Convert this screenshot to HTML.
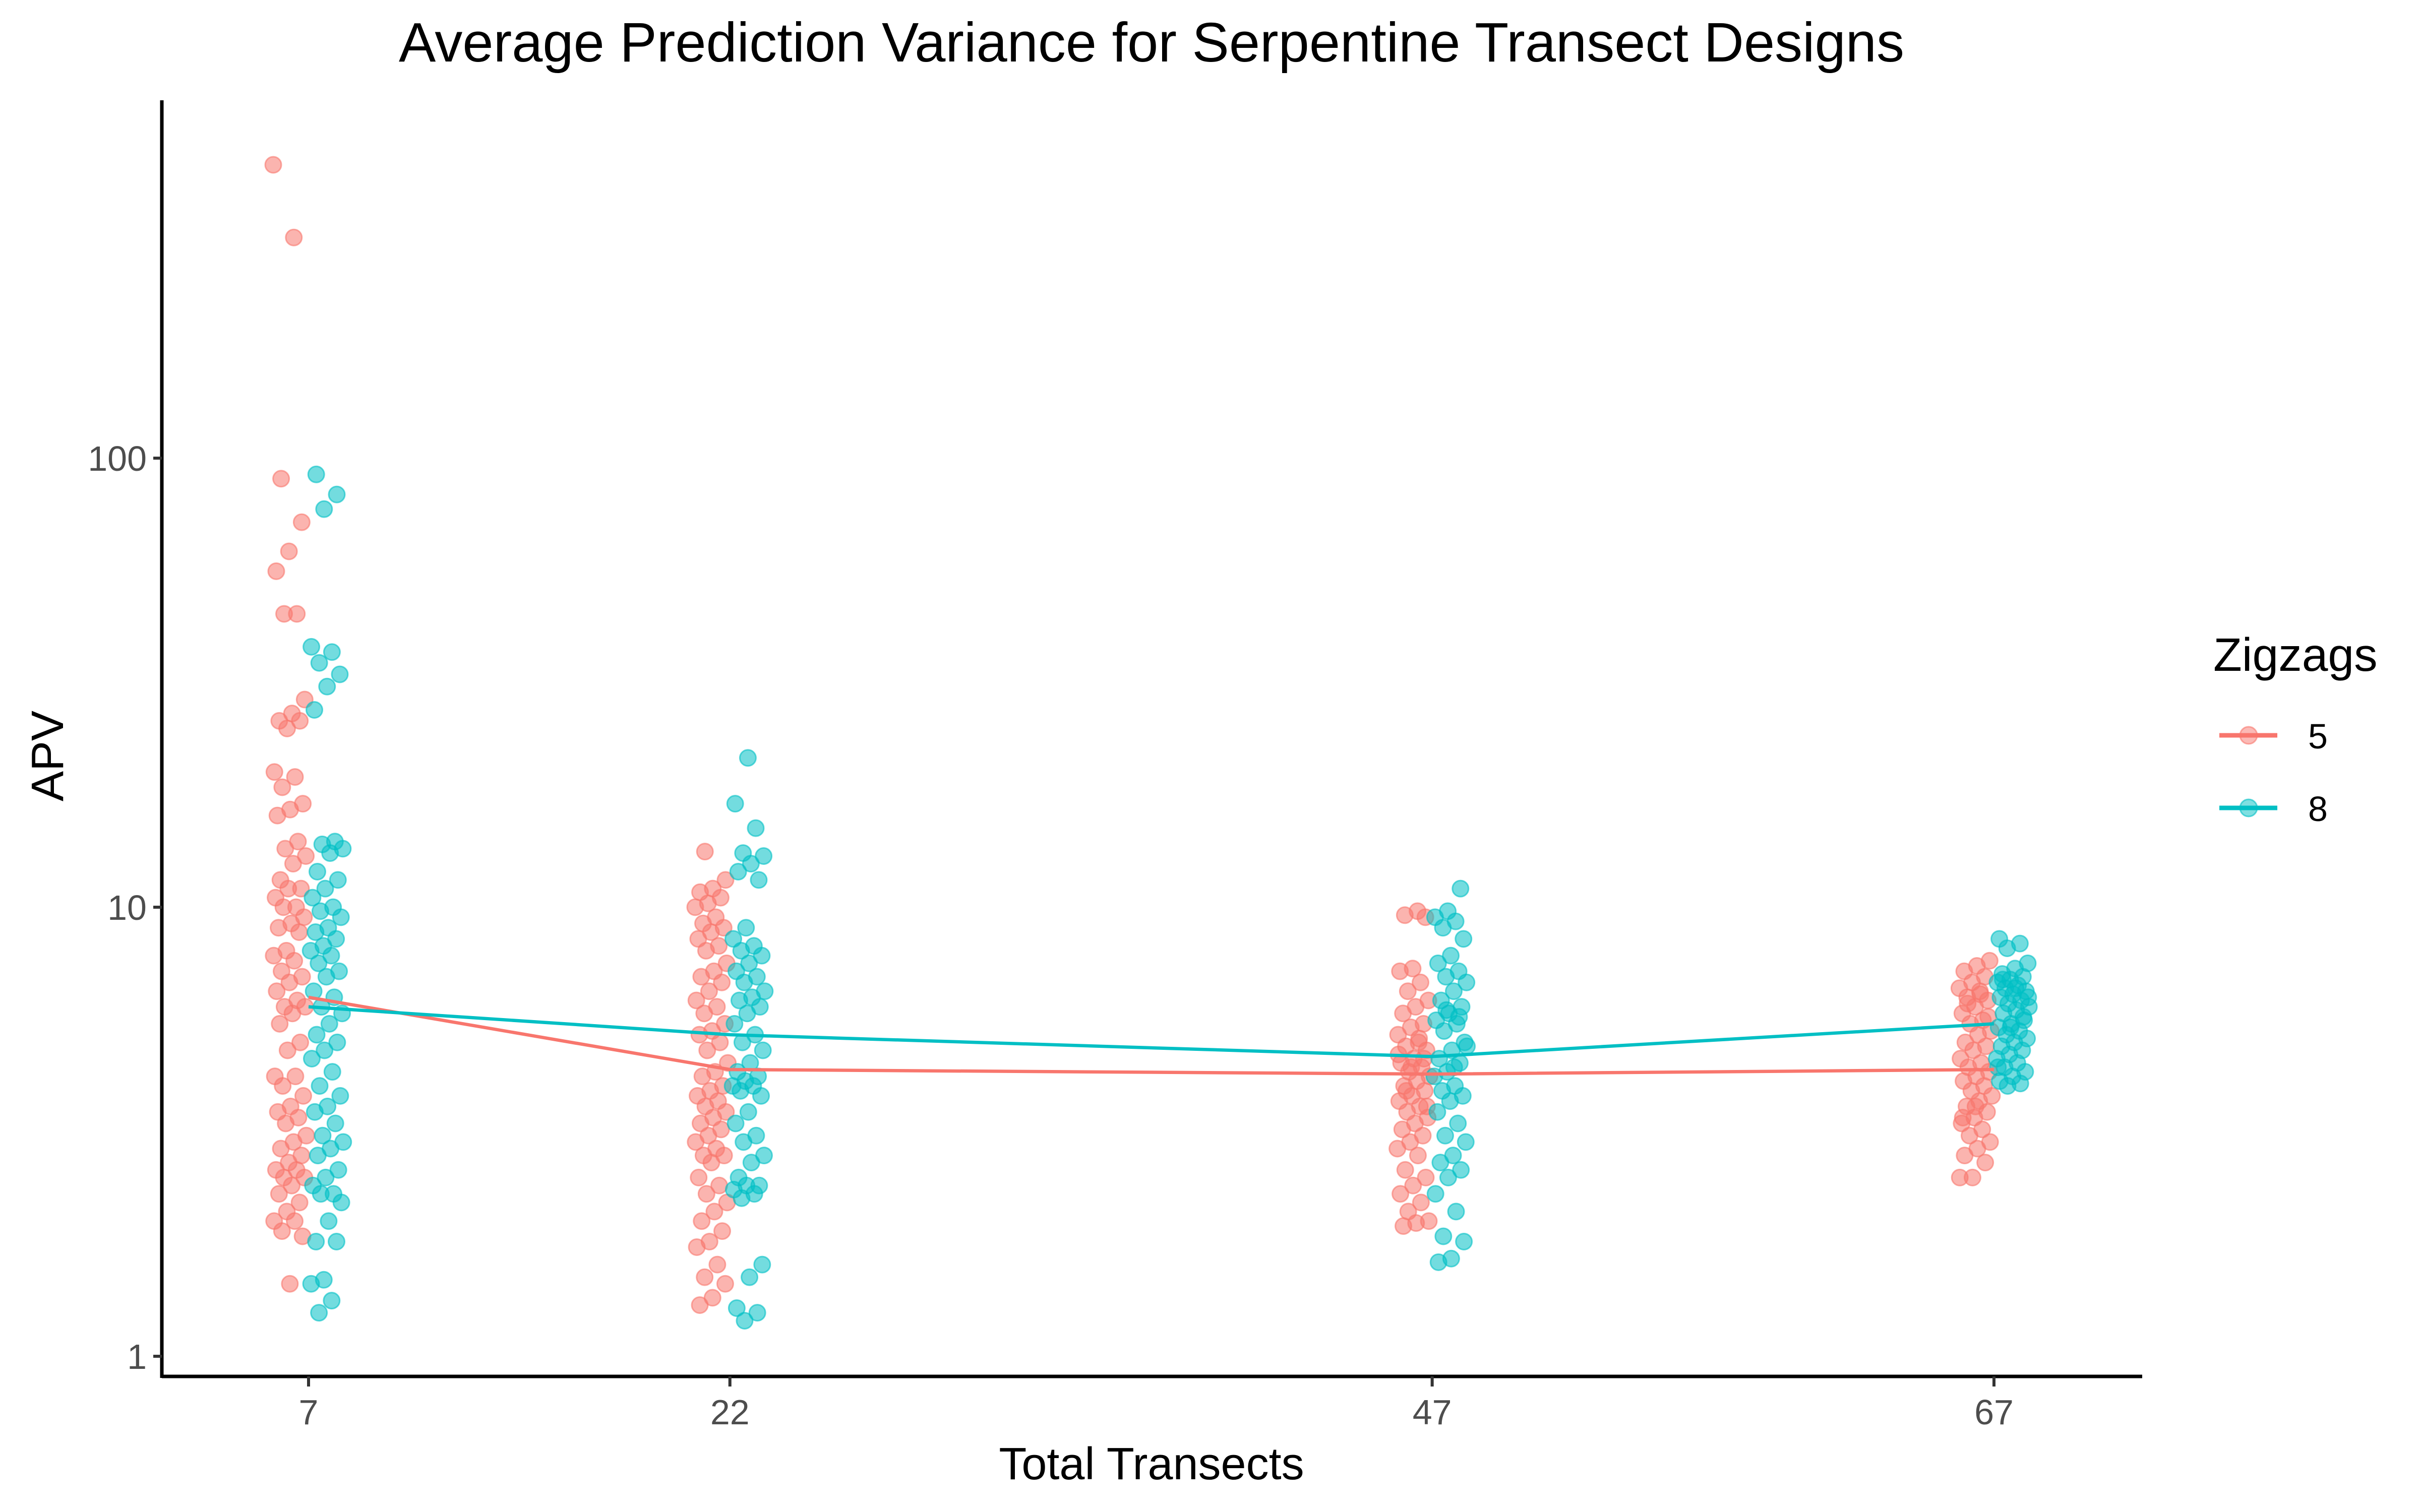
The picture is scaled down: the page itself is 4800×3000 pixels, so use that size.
<!DOCTYPE html>
<html><head><meta charset="utf-8"><style>
html,body{margin:0;padding:0;background:#fff;}
svg{display:block;font-family:"Liberation Sans",Arial,sans-serif;}
</style></head><body>
<svg id="chart" width="4800" height="3000" viewBox="0 0 4800 3000">
<text x="2284" y="122" font-size="110" text-anchor="middle" fill="#000">Average Prediction Variance for Serpentine Transect Designs</text>
<g id="points"></g>
<g id="lines"></g>
<g id="axes"></g>
<text x="2284" y="2935" font-size="90" text-anchor="middle" fill="#000">Total Transects</text>
<text x="0" y="0" font-size="90" text-anchor="middle" fill="#000" transform="translate(125,1500) rotate(-90)">APV</text>
<g>
<text x="4390" y="1331" font-size="93" fill="#000">Zigzags</text>
<g>
<line x1="4402" y1="1459" x2="4517" y2="1459" stroke="#F8766D" stroke-width="9"/>
<circle cx="4460" cy="1459" r="17" fill="#F8766D" fill-opacity="0.5" stroke="#F8766D" stroke-opacity="0.6" stroke-width="3"/>
<text x="4578" y="1485" font-size="70" fill="#000">5</text></g>
<g>
<line x1="4402" y1="1603" x2="4517" y2="1603" stroke="#00BFC4" stroke-width="9"/>
<circle cx="4460" cy="1603" r="17" fill="#00BFC4" fill-opacity="0.5" stroke="#00BFC4" stroke-opacity="0.6" stroke-width="3"/>
<text x="4578" y="1629" font-size="70" fill="#000">8</text></g>
</g>
</svg>
<script>
const categories = [7, 22, 47, 67];
const groups = ["5", "8"];
const means5 = [6.3, 4.35, 4.25, 4.35];
const means8 = [6.0, 5.2, 4.65, 5.5];
const vals5_7 = [450,310,90,72,62,56,45,45,29,27,26,26,25,20,19.5,18.5,17,16.5,16,14,13.5,13,12.5,11.5,11,11,10.5,10,10,9.5,9.2,9,8.8,8,7.8,7.6,7.2,7,6.8,6.5,6.2,6,6,5.8,5.5,5,4.8,4.2,4.2,4,3.8,3.6,3.5,3.4,3.3,3.1,3,2.9,2.8,2.7,2.6,2.6,2.5,2.5,2.4,2.3,2.2,2.1,2,2,1.9,1.85,1.45];
const vals8_7 = [92,83,77,38,37,35,33,31,27.5,14,13.8,13.5,13.2,12,11.5,11,10.5,10,9.8,9.5,9,8.8,8.5,8.2,8,7.8,7.5,7.2,7,6.5,6.3,6,5.8,5.5,5.2,5,4.8,4.6,4.3,4,3.8,3.6,3.5,3.3,3.1,3,2.9,2.8,2.6,2.5,2.4,2.3,2.3,2.2,2,1.8,1.8,1.48,1.45,1.33,1.25];
const vals5_22 = [13.3,11.5,11,10.8,10.5,10.2,10,9.5,9.2,9,8.8,8.5,8.2,8,7.5,7.2,7,6.8,6.5,6.2,6,5.8,5.5,5.3,5.2,5,4.8,4.5,4.3,4.2,4,3.9,3.8,3.7,3.6,3.5,3.4,3.3,3.2,3.1,3,2.9,2.8,2.8,2.7,2.5,2.4,2.3,2.2,2.1,2,1.9,1.8,1.75,1.6,1.5,1.45,1.35,1.3];
const vals8_22 = [21.5,17,15,13.2,13,12.5,12,11.5,9,8.5,8.2,8,7.8,7.5,7.2,7,6.8,6.5,6.3,6.2,6,5.8,5.5,5.2,5,4.8,4.5,4.3,4.2,4.1,4,4,3.9,3.8,3.5,3.3,3.1,3,2.8,2.7,2.5,2.4,2.4,2.35,2.3,2.25,1.6,1.5,1.28,1.25,1.2];
const vals5_47 = [9.8,9.6,9.5,7.3,7.2,6.8,6.5,6.2,6,5.8,5.5,5.4,5.2,5,4.9,4.8,4.6,4.5,4.4,4.3,4.2,4.1,4,3.9,3.8,3.7,3.6,3.5,3.4,3.3,3.2,3.1,3,2.9,2.8,2.6,2.5,2.4,2.3,2.2,2.1,2,1.98,1.95,4.6,4.4,4.7,5.1,3.9,3.6];
const vals8_47 = [11,9.8,9.5,9.3,9,8.5,7.8,7.5,7.2,7,6.8,6.5,6.2,6,5.8,5.6,5.5,5.3,5,4.8,4.6,4.5,4.3,4.2,4,3.9,3.8,3.7,3.5,3.3,3.1,3,2.8,2.7,2.6,2.5,2.3,2.1,1.85,1.8,1.65,1.62,5.7,5.9,4.9,4.4];
const vals5_67 = [7.6,7.4,7.2,7,6.8,6.6,6.5,6.3,6.2,6,5.8,5.6,5.5,5.3,5.2,5,4.9,4.8,4.6,4.5,4.4,4.3,4.2,4.1,4,3.9,3.8,3.7,3.6,3.5,3.4,3.3,3.2,3.1,3,2.9,2.8,2.7,2.5,2.5,6.4,6.1,5.7,3.6,3.4];
const vals8_67 = [8.5,8.3,8.1,7.5,7.3,7.1,7,6.9,6.8,6.7,6.6,6.5,6.4,6.3,6.2,6.1,6,5.9,5.8,5.6,5.5,5.4,5.3,5.2,5.1,5,4.9,4.8,4.7,4.6,4.5,4.4,4.3,4.2,4.1,4.05,4,6.3,6.6,6.9,5.7,5.4,4.4];
const yTicks = [1, 10, 100];
const xTickLabels = ["7", "22", "47", "67"];

const NS = "http://www.w3.org/2000/svg";
const colors = {"5": "#F8766D", "8": "#00BFC4"};
const X0 = 321, X1 = 4249, YB = 2731, YT = 199;
function xScale(v){ return 612 + (v - 7) * (3955 - 612) / 60; }
function yScale(v){ return 2691 - Math.log10(v) * 891; }
function mk(tag, attrs, parent){ const e = document.createElementNS(NS, tag); for (const k in attrs) e.setAttribute(k, attrs[k]); parent.appendChild(e); return e; }

const pts = document.getElementById("points");
const series = {"5": [vals5_7, vals5_22, vals5_47, vals5_67], "8": [vals8_7, vals8_22, vals8_47, vals8_67]};
groups.forEach((g, gi) => {
  const dodge = gi === 0 ? -37 : 37;
  series[g].forEach((arr, ci) => {
    arr.forEach((v, i) => {
      const jit = (((i * 0.618034 + ci * 0.31 + gi * 0.17) % 1) - 0.5) * 66;
      const c = mk("circle", {cx: xScale(categories[ci]) + dodge + jit, cy: yScale(v), r: 16, fill: colors[g], "fill-opacity": 0.55, stroke: colors[g], "stroke-opacity": 0.6, "stroke-width": 3}, pts);
      
      
    });
  });
});

const lines = document.getElementById("lines");
[["5", means5], ["8", means8]].forEach(([g, m]) => {
  const d = m.map((v, i) => (i ? "L" : "M") + xScale(categories[i]) + "," + yScale(v)).join(" ");
  const p = mk("path", {d: d, fill: "none", stroke: colors[g], "stroke-width": 6.5}, lines);
  
  
});

const ax = document.getElementById("axes");
const xa = mk("line", {x1: X0, y1: YB, x2: X1, y2: YB, stroke: "#000", "stroke-width": 7}, ax);


const ya = mk("line", {x1: X0, y1: YT, x2: X0, y2: YB + 3, stroke: "#000", "stroke-width": 7}, ax);


yTicks.forEach(t => {
  const y = yScale(t);
  mk("line", {x1: X0 - 17, y1: y, x2: X0, y2: y, stroke: "#333", "stroke-width": 6}, ax);
  const tx = mk("text", {x: X0 - 30, y: y + 25, "font-size": 70, "text-anchor": "end", fill: "#4d4d4d"}, ax);
  tx.textContent = String(t);
  
  
});
categories.forEach((c, i) => {
  const x = xScale(c);
  mk("line", {x1: x, y1: YB, x2: x, y2: YB + 20, stroke: "#333", "stroke-width": 6}, ax);
  const tx = mk("text", {x: x, y: YB + 95, "font-size": 70, "text-anchor": "middle", fill: "#4d4d4d"}, ax);
  tx.textContent = xTickLabels[i];
  
  
});
</script>
</body></html>
